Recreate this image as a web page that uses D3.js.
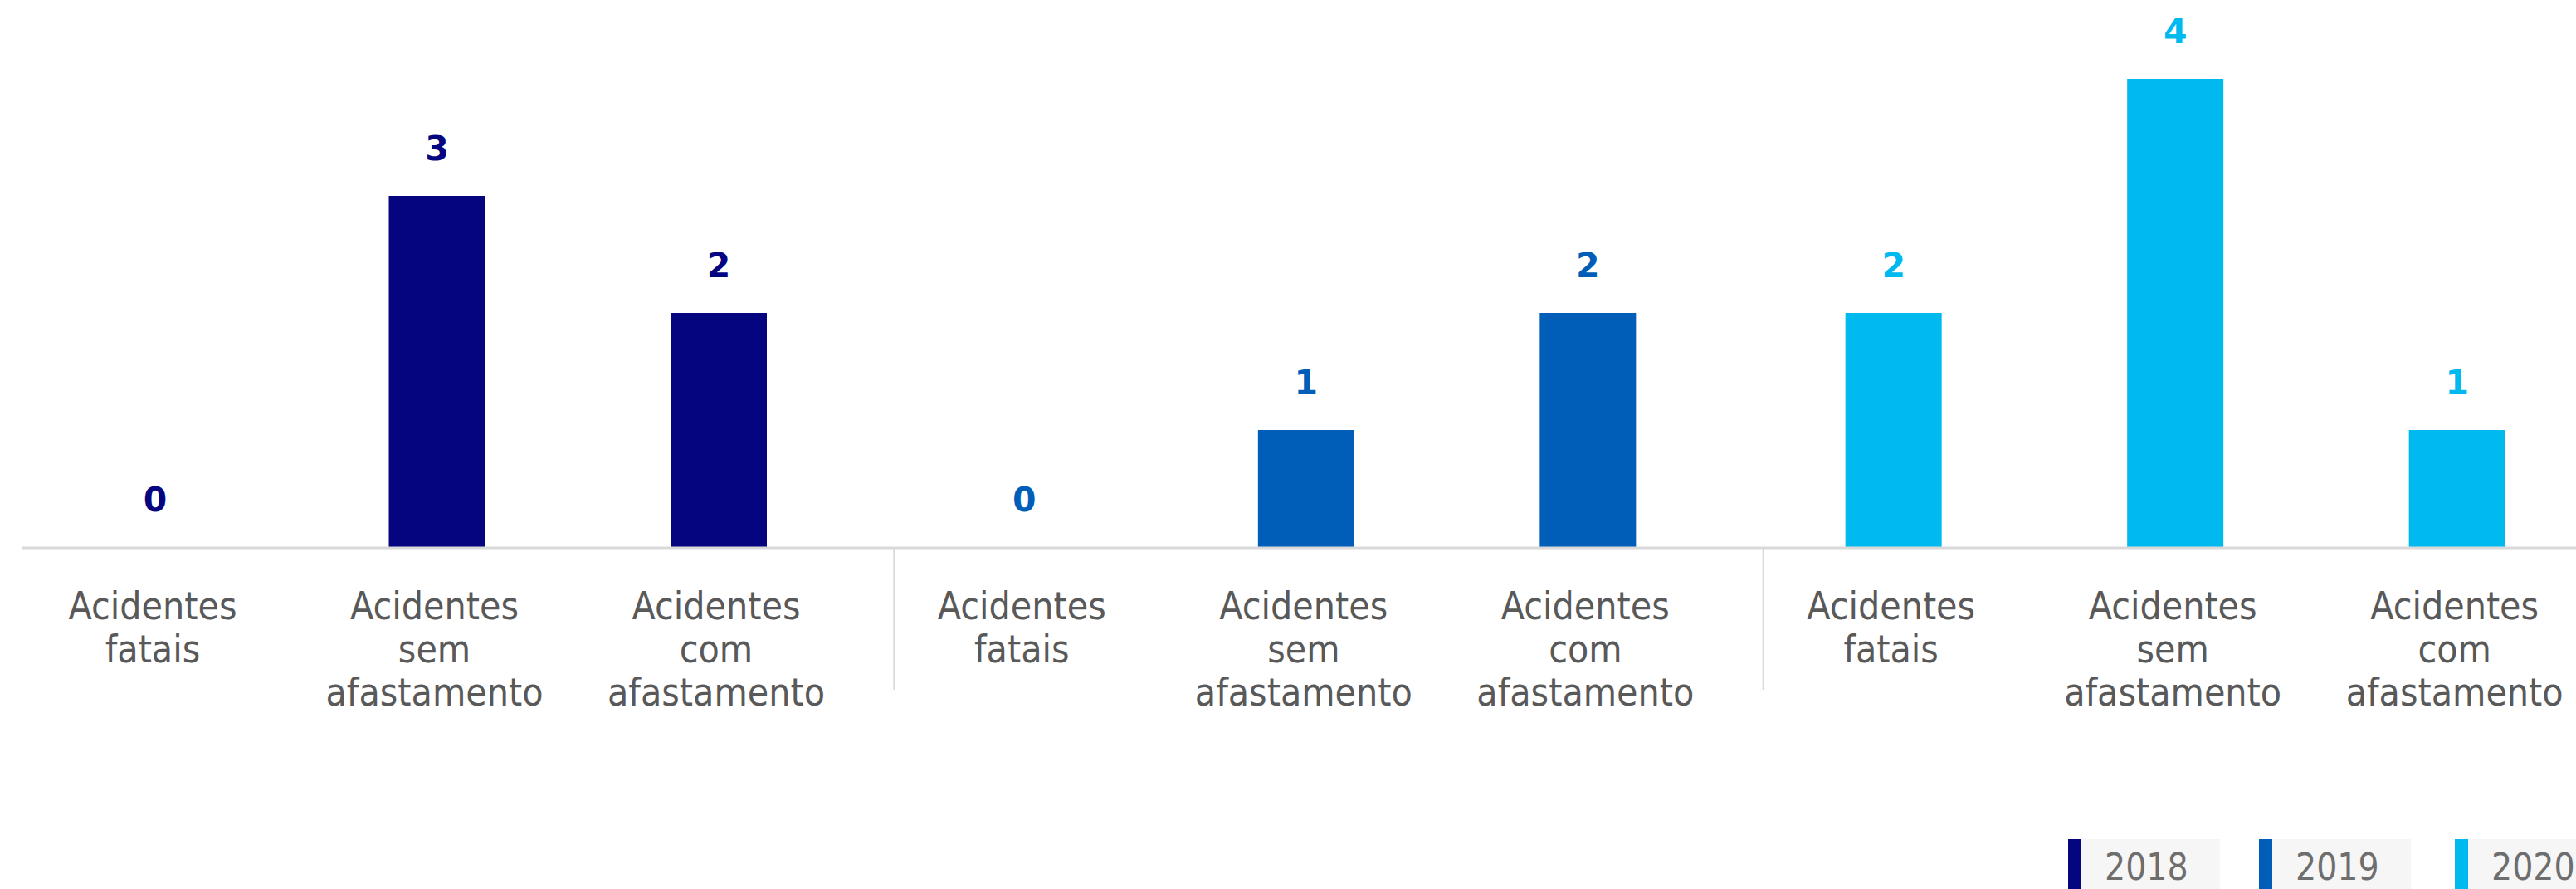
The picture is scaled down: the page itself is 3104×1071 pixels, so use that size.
<!DOCTYPE html>
<html>
<head>
<meta charset="utf-8">
<script src="https://cdn.jsdelivr.net/npm/d3@7/dist/d3.min.js"></script>
<style>
  html, body { margin: 0; padding: 0; background: #ffffff; }
  svg { display: block; }
</style>
</head>
<body>
<svg id="chart" width="3104" height="1071"></svg>
<script>
// Accident counts per year and type
const years = ["2018", "2019", "2020"];
const categories = ["Acidentes fatais", "Acidentes sem afastamento", "Acidentes com afastamento"];
const values2018 = [0, 3, 2];
const values2019 = [0, 1, 2];
const values2020 = [2, 4, 1];
const yearColors = ["#05057f", "#005eb8", "#00b9ee"];

const seriesValues = [values2018, values2019, values2020];
const rows = [];
years.forEach((yr, i) => {
  categories.forEach((cat, j) => {
    rows.push({ year: yr, cat: cat, value: seriesValues[i][j], color: yearColors[i] });
  });
});

const W = 3104, H = 1071;
const svg = d3.select("#chart");
svg.append("rect").attr("width", W).attr("height", H).attr("fill", "#ffffff");

const labelFont = "'DejaVu Sans Condensed', 'DejaVu Sans', sans-serif";
const valueFont = "'DejaVu Sans', sans-serif";

// Outer scale: one band per year; inner scale: category centres within the band
const x0 = d3.scaleBand().domain(years).range([30, 3172]).padding(0);
const x1 = d3.scalePoint().domain(categories).range([157, 836]);
const y = d3.scaleLinear().domain([0, 4]).range([659, 95]);

const barW = 116;
const cx = d => x0(d.year) + x1(d.cat);

// Bars
svg.append("g").selectAll("rect")
  .data(rows.filter(d => d.value > 0))
  .join("rect")
  .attr("x", d => cx(d) - barW / 2)
  .attr("y", d => y(d.value))
  .attr("width", barW)
  .attr("height", d => y(0) - y(d.value))
  .attr("fill", d => d.color);

// Value labels above bars
svg.append("g").selectAll("text")
  .data(rows)
  .join("text")
  .attr("x", d => cx(d))
  .attr("y", d => y(d.value) - 43)
  .attr("text-anchor", "middle")
  .attr("font-family", valueFont)
  .attr("font-weight", "bold")
  .attr("font-size", 41)
  .attr("fill", d => d.color)
  .text(d => d.value);

// Category axis baseline
svg.append("line")
  .attr("x1", 27).attr("x2", W)
  .attr("y1", y(0) + 1).attr("y2", y(0) + 1)
  .attr("stroke", "#d9d9d9").attr("stroke-width", 3);

// Separators between year groups
svg.append("g").selectAll("line")
  .data(years.slice(1))
  .join("line")
  .attr("x1", d => x0(d)).attr("x2", d => x0(d))
  .attr("y1", y(0) + 2).attr("y2", 831)
  .attr("stroke", "#d9d9d9").attr("stroke-width", 2);

// Category labels, one word per line
const catLabels = svg.append("g").selectAll("text")
  .data(rows)
  .join("text")
  .attr("text-anchor", "middle")
  .attr("font-family", labelFont)
  .attr("font-size", 46)
  .attr("fill", "#595959");
catLabels.each(function(d) {
  const t = d3.select(this);
  d.cat.split(" ").forEach((w, k) => {
    t.append("tspan")
      .attr("x", cx(d) - 3)
      .attr("y", 746 + k * 52)
      .text(w);
  });
});

// Legend
const legendX = [2492, 2722, 2958];
const legend = svg.append("g").selectAll("g")
  .data(years)
  .join("g")
  .attr("transform", (d, i) => `translate(${legendX[i]},1011)`);
legend.append("rect")
  .attr("x", 16).attr("y", 0).attr("width", 167).attr("height", 70)
  .attr("fill", "#f6f6f6");
legend.append("rect")
  .attr("x", 0).attr("y", 0).attr("width", 16).attr("height", 70)
  .attr("fill", (d, i) => yearColors[i]);
legend.append("text")
  .attr("x", 44).attr("y", 49)
  .attr("font-family", labelFont)
  .attr("font-size", 44)
  .attr("fill", "#6e6e6e")
  .text(d => d);
</script>
</body>
</html>
